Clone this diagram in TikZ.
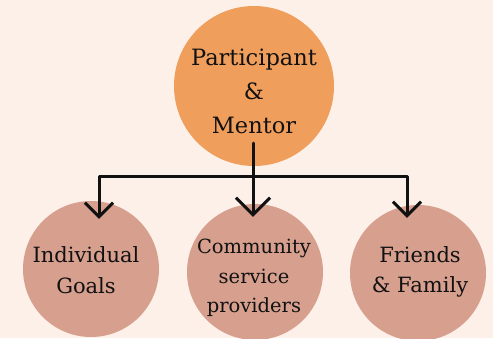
\documentclass[tikz,border=0pt]{standalone}
\usepackage{fontspec}
\setmainfont{DejaVu Serif}
\usetikzlibrary{arrows.meta}

\definecolor{paper}{HTML}{FDF0E8}
\definecolor{peach}{HTML}{F09E5C}
\definecolor{clay}{HTML}{D69F8E}
\definecolor{ink}{HTML}{111111}

\tikzset{
  blob/.style = {circle, inner sep=0pt, draw=none},
  lbl/.style  = {align=center, text=ink, inner sep=0pt},
  link/.style = {ink, line width=3pt, line cap=round, line join=round},
  arr/.style  = {link, -{Straight Barb[length=14pt, width=28pt]}},
  bigarr/.style = {link, -{Straight Barb[length=17pt, width=34pt]}},
}

\begin{document}
\begin{tikzpicture}[x=1pt, y=-1pt]

%% page
\fill[paper] (0,0) rectangle (493,338);
\useasboundingbox (0,0) rectangle (493,338);

%% circles
\node[blob, fill=peach, minimum size=160pt] (top) at (254,86)  {};
\node[blob, fill=clay,  minimum size=136pt] (ind) at (91,269)  {};
\node[blob, fill=clay,  minimum size=136pt] (com) at (255,272) {};
\node[blob, fill=clay,  minimum size=136pt] (fam) at (418,273) {};

%% texts
\node[lbl, font=\fontsize{22.5}{34}\selectfont] (topt) at (254,91)
  {Participant\\\&\\Mentor};
\node[lbl, font=\fontsize{21}{31}\selectfont] (indt) at (86,270)
  {Individual\\Goals};
\node[lbl, font=\fontsize{19.5}{29.5}\selectfont] (comt) at (254,278)
  {Community\\service\\providers};
\node[lbl, font=\fontsize{21}{30}\selectfont] (famt) at (420,272)
  {Friends\\\& Family};

%% connectors
\coordinate (stem) at (253,143);
\coordinate (bar)  at (253,176);
\draw[bigarr, shorten >=-13pt] (stem) -- (com.north -| stem);
\draw[arr, shorten >=-18pt] (bar) -| ([xshift=8pt]ind.north);
\draw[arr, shorten >=-13pt] (bar) -| ([xshift=-11pt]fam.north);

\end{tikzpicture}
\end{document}
